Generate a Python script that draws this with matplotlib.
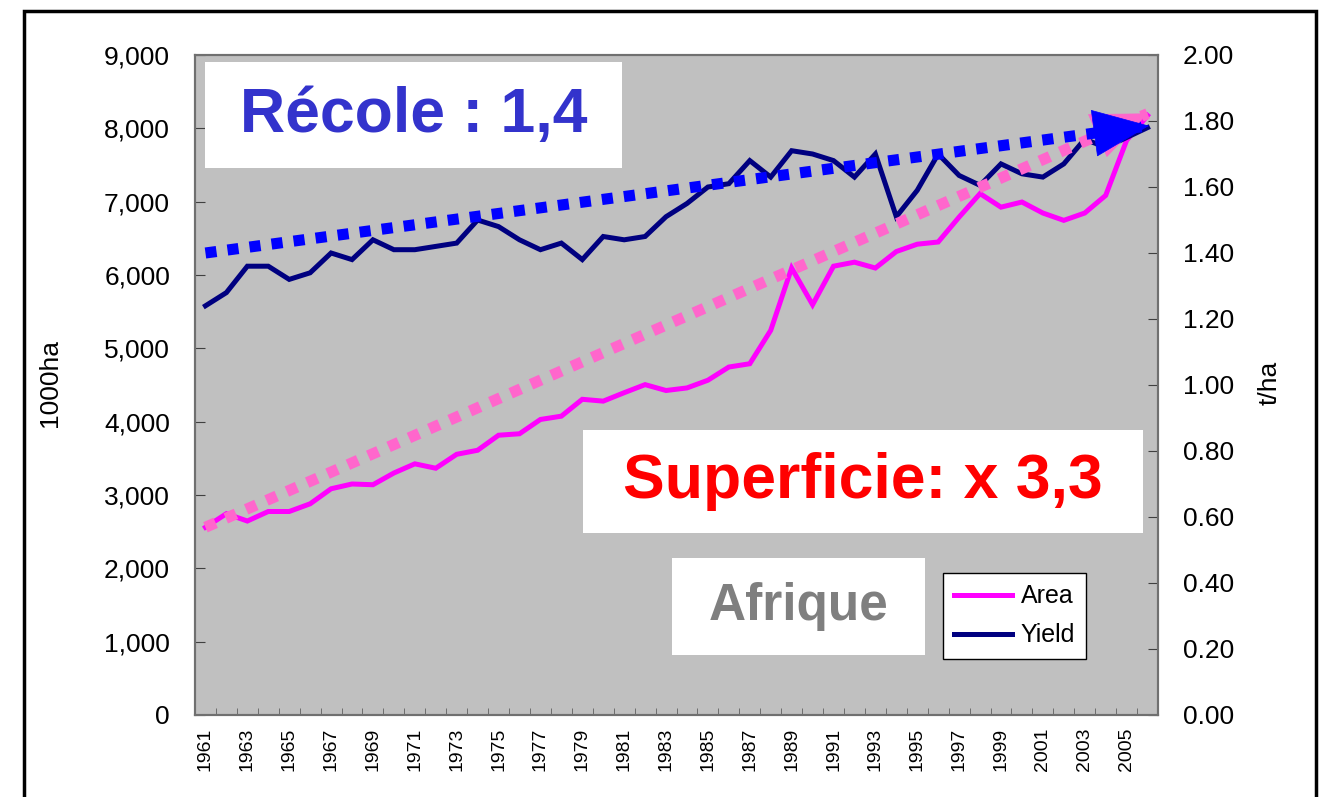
import matplotlib.pyplot as plt
from matplotlib.patches import Rectangle
import numpy as np

plt.rcParams['font.family'] = ['Liberation Sans', 'DejaVu Sans']

# data
years = list(range(1961, 2007))
area = [2560, 2745, 2645, 2775, 2775, 2880, 3085, 3150, 3140, 3300,
        3425, 3365, 3555, 3610, 3815, 3835, 4030, 4075, 4305, 4280,
        4395, 4505, 4425, 4460, 4565, 4745, 4790, 5245, 6095, 5595,
        6120, 6175, 6095, 6320, 6420, 6450, 6790, 7110, 6925, 6995,
        6845, 6745, 6845, 7085, 7835, 8175]
yield_ = [1.24, 1.28, 1.36, 1.36, 1.32, 1.34, 1.40, 1.38, 1.44, 1.41,
          1.41, 1.42, 1.43, 1.50, 1.48, 1.44, 1.41, 1.43, 1.38, 1.45,
          1.44, 1.45, 1.51, 1.55, 1.60, 1.61, 1.68, 1.63, 1.71, 1.70,
          1.68, 1.63, 1.70, 1.51, 1.59, 1.70, 1.635, 1.605, 1.67, 1.64,
          1.63, 1.67, 1.745, 1.72, 1.75, 1.78]
# trend lines (start / end)
area_trend = [2560, 8200]
yield_trend = [1.40, 1.785]

W, H = 1320, 797
fig = plt.figure(figsize=(W / 100, H / 100), dpi=100)

def px(x0, y0, x1, y1):
    # pixel box -> figure fraction (left, bottom, width, height)
    return x0 / W, 1 - y1 / H, (x1 - x0) / W, (y1 - y0) / H

ax = fig.add_axes(px(195, 55, 1158, 715))
ax.set_facecolor('#C0C0C0')
ax2 = ax.twinx()

x = np.arange(len(years))
ln1, = ax.plot(x, area, color='#FF00FF', lw=3.6, label='Area', solid_joinstyle='miter')
ln2, = ax2.plot(x, yield_, color='#000080', lw=3.6, label='Yield', solid_joinstyle='miter')

# pink trend (area axis) drawn above the yield line
tx = [x[0], x[-1]]
ax2.plot(tx, area_trend, color='#FF66CC', lw=8, linestyle=(0, (1, 1)),
         transform=ax.transData, dash_capstyle='butt')
slope_a = (area_trend[1] - area_trend[0]) / (tx[1] - tx[0])
ax2.annotate('', xy=(tx[1] + 0.15, area_trend[1] + slope_a * 0.15),
             xytext=(tx[1] - 1.5, area_trend[1] - slope_a * 1.5),
             xycoords=ax.transData, textcoords=ax.transData,
             arrowprops=dict(arrowstyle='-|>,head_length=1.3,head_width=0.55',
                             color='#FF66CC', lw=0.5, mutation_scale=30))

ax2.plot(tx, yield_trend, color='#0000FF', lw=8, linestyle=(0, (1, 1)),
         dash_capstyle='butt')
slope_y = (yield_trend[1] - yield_trend[0]) / (tx[1] - tx[0])
ax2.annotate('', xy=(tx[1] + 0.2, yield_trend[1] + slope_y * 0.2),
             xytext=(tx[1] - 1.5, yield_trend[1] - slope_y * 1.5),
             arrowprops=dict(arrowstyle='-|>,head_length=1.3,head_width=0.55',
                             color='#0000FF', lw=0.5, mutation_scale=30))

ax.set_xlim(-0.5, len(years) - 0.5)
ax.set_ylim(0, 9000)
ax2.set_ylim(0, 2.0)

ax.set_yticks(np.arange(0, 9001, 1000))
ax.set_yticklabels([f'{v:,}' for v in range(0, 9001, 1000)])
ax2.set_yticks(np.arange(0, 2.01, 0.2))
ax2.set_yticklabels([f'{v:.2f}' for v in np.arange(0, 2.01, 0.2)])

ax.set_xticks(x[::2])
ax.set_xticklabels([str(y) for y in years[::2]], rotation=90, fontsize=14)
ax.set_xticks(np.arange(-0.5, len(years), 1), minor=True)
ax.tick_params(axis='x', which='major', length=0, pad=9)
ax.tick_params(axis='x', which='minor', direction='in', length=5, color='#606060')
ax.tick_params(axis='y', direction='in', length=7, labelsize=19, pad=18, color='#404040')
ax2.tick_params(axis='y', direction='in', length=7, labelsize=19, pad=18, color='#404040')

for a in (ax, ax2):
    for s in a.spines.values():
        s.set_color('#707070')
        s.set_linewidth(1.5)

fig.text(50 / W, 1 - 383 / H, '1000ha', rotation=90, fontsize=19,
         ha='center', va='center')
fig.text(1270 / W, 1 - 383 / H, 't/ha', rotation=90, fontsize=19,
         ha='center', va='center')

# white label boxes
boxes = [
    ((205, 62, 622, 168), 'Récole : 1,4', '#3333CC', 45),
    ((583, 430, 1143, 533), 'Superficie: x 3,3', '#FF0000', 45),
    ((672, 558, 925, 655), 'Afrique', '#7F7F7F', 37),
]
for (x0, y0, x1, y1), txt, col, fs in boxes:
    l, b, w, h = px(x0, y0, x1, y1)
    fig.add_artist(Rectangle((l, b), w, h, transform=fig.transFigure,
                             facecolor='white', edgecolor='none', zorder=5))
    fig.text(l + w / 2, b + h / 2, txt, color=col, fontsize=fs, fontweight='bold',
             ha='center', va='center', zorder=6)

leg = ax2.legend(handles=[ln1, ln2], loc='upper left',
                 bbox_to_anchor=(943 / W, 1 - 573 / H), bbox_transform=fig.transFigure,
                 borderaxespad=0, fontsize=18, fancybox=False, framealpha=1,
                 edgecolor='black', handlelength=2.3, handletextpad=0.35,
                 borderpad=0.45, labelspacing=0.6)
leg.get_frame().set_linewidth(1)

# outer frame
fig.add_artist(Rectangle((24 / W, -0.05), (1316 - 24) / W, 1 - 11 / H + 0.05,
                         transform=fig.transFigure, fill=False,
                         edgecolor='black', lw=2.5, zorder=10))

fig.savefig('out.png', dpi=100)
